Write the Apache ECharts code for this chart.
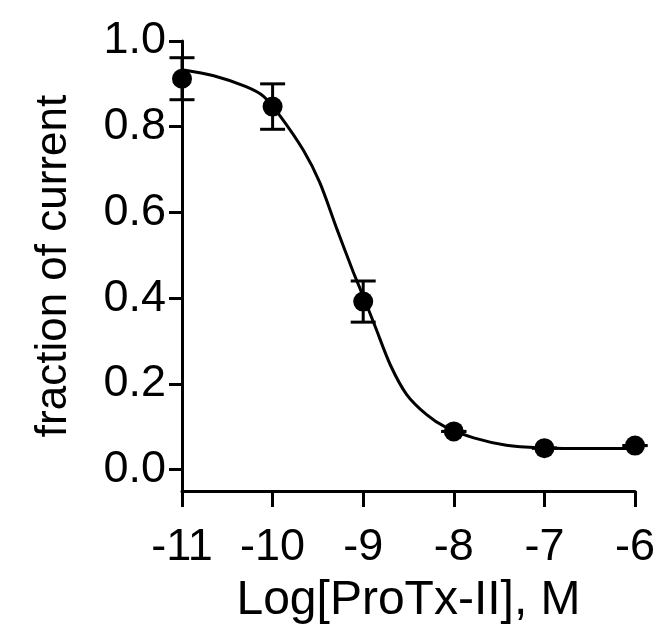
<!DOCTYPE html>
<html>
<head>
<meta charset="utf-8">
<script src="https://cdn.jsdelivr.net/npm/echarts@6/dist/echarts.min.js"></script>
<style>
  html, body { margin: 0; padding: 0; background: #fff; }
  #chart { width: 661px; height: 630px; }
</style>
</head>
<body>
<div id="chart"></div>
<script>
// measured points (log dose, mean, error)
const doseX = [-11, -10, -9, -8, -7, -6];
const meanY = [0.912, 0.847, 0.392, 0.089, 0.050, 0.056];
const errY = [0.049, 0.053, 0.048, 0, 0, 0];

// fitted curve
const fitX = [-11, -10.65, -10.3, -10.1, -9.92, -9.66, -9.48, -9.29, -9.11, -9.03, -8.87, -8.7, -8.52, -8.3, -8.1, -7.78, -7.42, -7.05, -6.5, -6];
const fitY = [0.933, 0.919, 0.894, 0.871, 0.826, 0.745, 0.670, 0.561, 0.461, 0.420, 0.335, 0.244, 0.175, 0.128, 0.100, 0.074, 0.057, 0.051, 0.049, 0.049];

const yTicks = [0, 0.2, 0.4, 0.6, 0.8, 1.0];

const chart = echarts.init(document.getElementById('chart'));

const fontFam = 'Liberation Sans, Arial, sans-serif';

chart.setOption({
  animation: false,
  backgroundColor: '#fff',
  grid: { left: 182, right: 26, top: 41, bottom: 138 },
  xAxis: {
    type: 'value',
    min: -11,
    max: -6,
    interval: 1,
    name: 'Log[ProTx-II], M',
    nameLocation: 'middle',
    nameGap: 86,
    nameTextStyle: { fontSize: 48, color: '#000', fontFamily: fontFam },
    axisLine: { onZero: false, lineStyle: { color: '#000', width: 3 } },
    axisTick: { length: 16, lineStyle: { color: '#000', width: 3 } },
    axisLabel: { margin: 34, fontSize: 45, color: '#000', fontFamily: fontFam },
    splitLine: { show: false }
  },
  yAxis: {
    type: 'value',
    min: -0.05,
    max: 1.0,
    name: 'fraction of current',
    nameLocation: 'middle',
    nameGap: 106,
    nameTextStyle: { fontSize: 44, color: '#000', fontFamily: fontFam },
    axisLine: { onZero: false, lineStyle: { color: '#000', width: 3 } },
    axisTick: { length: 13, customValues: yTicks, lineStyle: { color: '#000', width: 3 } },
    axisLabel: {
      margin: 16,
      fontSize: 45,
      color: '#000',
      fontFamily: fontFam,
      customValues: yTicks,
      formatter: v => v.toFixed(1)
    },
    splitLine: { show: false }
  },
  series: [
    {
      type: 'line',
      data: fitX.map((x, i) => [x, fitY[i]]),
      smooth: 0.3,
      showSymbol: false,
      lineStyle: { color: '#000', width: 3 },
      z: 2
    },
    {
      type: 'custom',
      data: doseX.map((x, i) => [x, meanY[i] - errY[i], meanY[i] + errY[i]]),
      renderItem: function (params, api) {
        const lo = api.coord([api.value(0), api.value(1)]);
        const hi = api.coord([api.value(0), api.value(2)]);
        const hw = 12.5;
        const style = { stroke: '#000', lineWidth: 3 };
        return {
          type: 'group',
          children: [
            { type: 'line', shape: { x1: lo[0], y1: lo[1], x2: hi[0], y2: hi[1] }, style: style },
            { type: 'line', shape: { x1: lo[0] - hw, y1: lo[1], x2: lo[0] + hw, y2: lo[1] }, style: style },
            { type: 'line', shape: { x1: hi[0] - hw, y1: hi[1], x2: hi[0] + hw, y2: hi[1] }, style: style }
          ]
        };
      },
      z: 3
    },
    {
      type: 'scatter',
      data: doseX.map((x, i) => [x, meanY[i]]),
      symbol: 'circle',
      symbolSize: 20,
      itemStyle: { color: '#000', opacity: 1 },
      z: 4
    }
  ]
});
</script>
</body>
</html>
